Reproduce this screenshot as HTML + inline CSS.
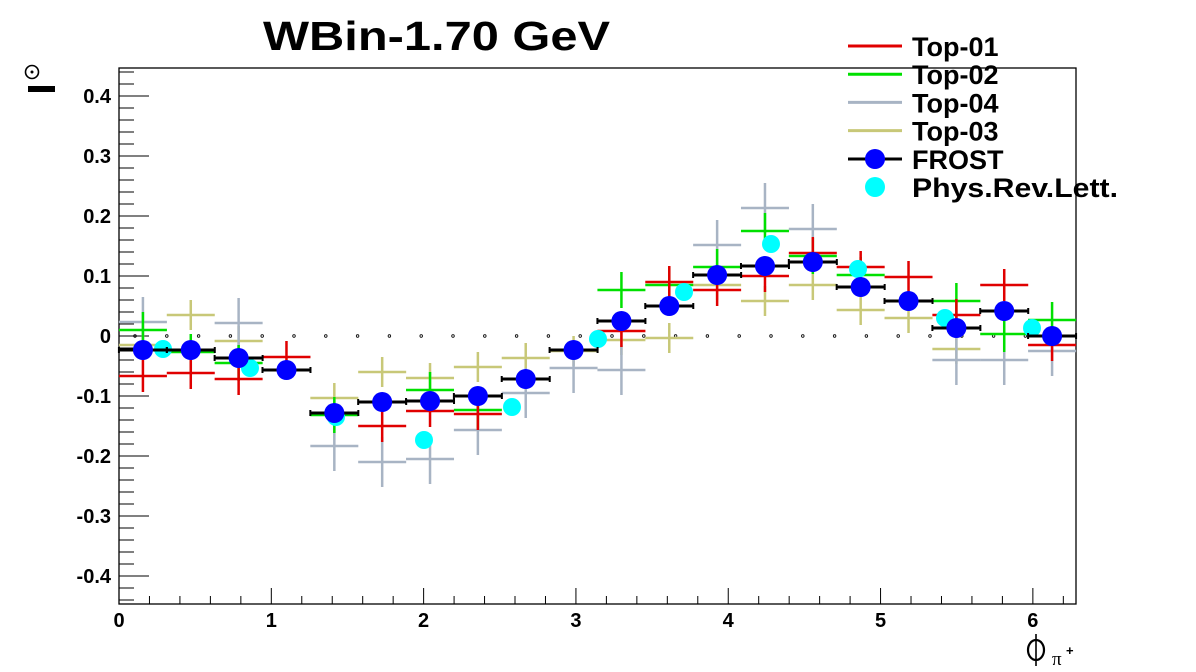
<!DOCTYPE html><html><head><meta charset="utf-8"><style>body{margin:0;background:#fff}svg{display:block;font-family:"Liberation Sans",sans-serif;font-weight:bold}</style></head><body>
<svg id="s" width="1196" height="672" xmlns="http://www.w3.org/2000/svg"></svg>
<script>
const S=document.getElementById('s');let h='';
const X0=119,X1=1076,Y0=68,Y1=604;
const px=v=>X0+v*(X1-X0)/6.2832, py=v=>336-v*600;
h+=`<rect x="${X0}" y="${Y0}" width="${X1-X0}" height="${Y1-Y0}" fill="none" stroke="#000" stroke-width="1.3"/>`;
for(let i=0;i<=31;i++){let x=px(i/5),L=i%5==0?16:8;h+=`<line x1="${x}" y1="${Y1}" x2="${x}" y2="${Y1-L}" stroke="#000"/>`;if(i%5==0)h+=`<text x="${x}" y="627" font-size="20" text-anchor="middle">${i/5}</text>`;}
for(let i=-22;i<=22;i++){let v=i/50,y=py(v),L=i%5==0?30:15;h+=`<line x1="${X0}" y1="${y}" x2="${X0+L}" y2="${y}" stroke="#000"/>`;if(i%5==0&&Math.abs(i)<=20)h+=`<text x="${X0-8}" y="${y+7}" font-size="20" text-anchor="end">${i==0?'0':(i/50).toFixed(1)}</text>`;}
for(let x=135;x<X1;x+=31.8)h+=`<circle cx="${x}" cy="336" r="1.3" fill="none" stroke="#000" stroke-width="0.8"/>`;
const C=i=>X0+47.85*(i+0.5);
function ser(col,ys,e,w){ys.forEach((y,i)=>{if(y==null)return;let c=C(i);h+=`<line x1="${c-24}" y1="${y}" x2="${c+24}" y2="${y}" stroke="${col}" stroke-width="${w}"/><line x1="${c}" y1="${y-e}" x2="${c}" y2="${y+e}" stroke="${col}" stroke-width="${w}"/>`;});}
const n=null;
ser('#c8c878',[345,315,341,n,398,372,378,367,358,351,340,338,285,301,285,310,318,349,n,n],15,2.5);
ser('#a8b4c4',[322,n,323,n,446,462,459,430,393,368,370,n,245,208,229,n,n,360,360,351],25,2.5);
ser('#00e000',[330,352,363,n,415,n,390,410,n,n,290,285,267,231,256,275,n,301,334,320],18,2.5);
ser('#e00000',[376,373,379,357,n,426,411,414,n,n,331,282,290,276,253,267,277,315,285,345],16,2.5);
[[163,349],[250,368],[336,417],[424,440],[512,407],[598,339],[684,292],[771,244],[858,269],[945,318],[1032,328]].forEach(p=>h+=`<circle cx="${p[0]}" cy="${p[1]}" r="9" fill="#00ffff"/>`);
[350,350,358,370,413,402,401,396,379,350,321,306,275,266,262,287,301,328,311,336].forEach((y,i)=>{let c=C(i);h+=`<line x1="${c-24}" y1="${y}" x2="${c+24}" y2="${y}" stroke="#000" stroke-width="3"/><line x1="${c-24}" y1="${y-3}" x2="${c-24}" y2="${y+3}" stroke="#000" stroke-width="2"/><line x1="${c+24}" y1="${y-3}" x2="${c+24}" y2="${y+3}" stroke="#000" stroke-width="2"/><circle cx="${c}" cy="${y}" r="10" fill="#0000ff"/>`;});
h+=`<text x="263" y="50" font-size="41" textLength="347" lengthAdjust="spacingAndGlyphs">WBin-1.70 GeV</text>`;
const L=[['#e00000','Top-01'],['#00e000','Top-02'],['#a8b4c4','Top-04'],['#c8c878','Top-03']];
L.forEach((l,i)=>{let y=46+28.2*i;h+=`<line x1="848" y1="${y}" x2="902" y2="${y}" stroke="${l[0]}" stroke-width="3"/><text x="912" y="${y+10}" font-size="27">${l[1]}</text>`;});
h+=`<line x1="848" y1="159" x2="902" y2="159" stroke="#000" stroke-width="3"/><circle cx="875" cy="159" r="10" fill="#0000ff"/><text x="912" y="169" font-size="27">FROST</text>`;
h+=`<circle cx="875" cy="187" r="10" fill="#00ffff"/><text x="912" y="197" font-size="27" textLength="206" lengthAdjust="spacingAndGlyphs">Phys.Rev.Lett.</text>`;
h+=`<circle cx="32" cy="72" r="6.5" fill="none" stroke="#000" stroke-width="1.6"/><circle cx="32" cy="72" r="1.5" fill="#000"/><rect x="28" y="86" width="27" height="6" fill="#000"/>`;
h+=`<ellipse cx="1036" cy="650" rx="8" ry="10" fill="none" stroke="#000" stroke-width="2.2"/><line x1="1036" y1="634" x2="1036" y2="666" stroke="#000" stroke-width="1.6"/><text x="1052" y="665" font-size="19" font-weight="normal" font-family="Liberation Serif">π</text><text x="1066" y="655" font-size="13">+</text>`;
S.innerHTML=h;
</script></body></html>
